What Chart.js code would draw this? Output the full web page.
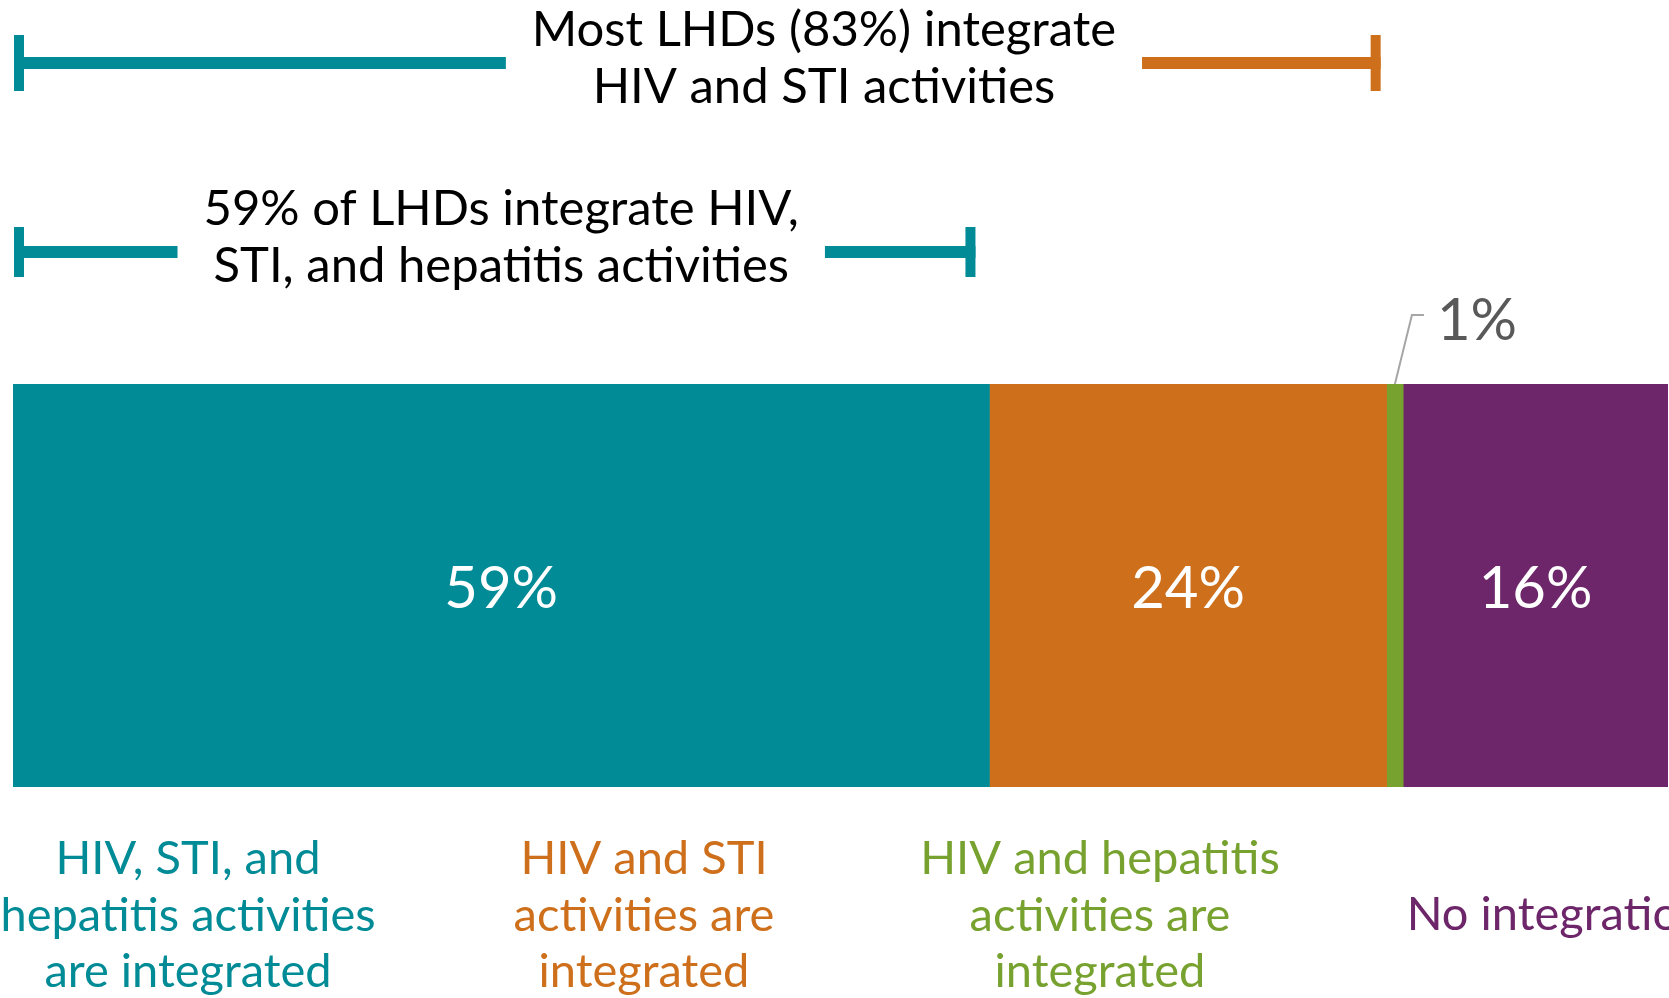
<!DOCTYPE html>
<html>
<head>
<meta charset="utf-8">
<script src="https://cdn.jsdelivr.net/npm/chart.js@4.4.1/dist/chart.umd.min.js"></script>
<style>
  html, body { margin: 0; padding: 0; background: #fff; overflow: hidden; }
  #wrap { position: absolute; left: 0; top: 0; width: 1669px; height: 998px; overflow: hidden; }
  canvas { position: absolute; left: 0; top: 0; }
</style>
</head>
<body>
<div id="wrap"><canvas id="myChart" width="1760" height="998"></canvas></div>
<script>
// shares of LHDs, in percent
const values = [59, 24, 1, 16]
const colors = ['#008B96', '#CE6F1B', '#78A22F', '#6C2669']
const categories = [
    ['HIV, STI, and', 'hepatitis activities', 'are integrated'],
    ['HIV and STI', 'activities are', 'integrated'],
    ['HIV and hepatitis', 'activities are', 'integrated'],
    ['No integration']
]
const topNote = [`Most LHDs (${values[0] + values[1]}%) integrate`, 'HIV and STI activities']
const lowNote = [`${values[0]}% of LHDs integrate HIV,`, 'STI, and hepatitis activities']

const FONT = 'Lato, "Open Sans", sans-serif'

function bracket(ctx, x0, x1, y, half, leftColor, rightColor, lines, cx, baselines) {
    ctx.font = `49px ${FONT}`
    const w = Math.max(...lines.map((l) => ctx.measureText(l).width))
    const gapL = cx - w / 2 - 26
    const gapR = cx + w / 2 + 26
    ctx.fillStyle = leftColor
    ctx.fillRect(x0, y - 6, gapL - x0, 12)
    ctx.fillRect(x0, y - half, 10, half * 2)
    ctx.fillStyle = rightColor
    ctx.fillRect(gapR, y - 6, x1 - gapR, 12)
    ctx.fillRect(x1 - 10, y - half, 10, half * 2)
    ctx.fillStyle = '#000'
    ctx.textAlign = 'center'
    ctx.textBaseline = 'alphabetic'
    lines.forEach((l, i) => ctx.fillText(l, cx, baselines[i]))
}

const overlay = {
    id: 'overlay',
    afterDatasetsDraw(chart) {
        const {ctx, chartArea} = chart
        const x = chart.scales.x
        const top = chartArea.top
        const mid = (chartArea.top + chartArea.bottom) / 2
        ctx.save()

        // value labels
        let cum = 0
        values.forEach((v, i) => {
            const a = x.getPixelForValue(cum)
            const b = x.getPixelForValue(cum + v)
            cum += v
            const cx = (a + b) / 2
            if (v < 5) {
                ctx.strokeStyle = '#A6A6A6'
                ctx.lineWidth = 2
                ctx.beginPath()
                ctx.moveTo(cx, top)
                ctx.lineTo(cx + 17, top - 69)
                ctx.lineTo(cx + 29, top - 69)
                ctx.stroke()
                ctx.fillStyle = '#595959'
                ctx.font = `58px ${FONT}`
                ctx.textAlign = 'left'
                ctx.textBaseline = 'alphabetic'
                ctx.fillText(v + '%', cx + 42, top - 44)
            } else {
                ctx.fillStyle = '#fff'
                ctx.font = `58px ${FONT}`
                ctx.textAlign = 'center'
                ctx.textBaseline = 'alphabetic'
                ctx.fillText(v + '%', cx, mid + 22)
            }
        })

        // brackets above the bar
        const start = x.getPixelForValue(0) + 1
        bracket(ctx, start, x.getPixelForValue(values[0] + values[1]) - 6, 63, 28,
            colors[0], colors[1], topNote, x.getPixelForValue(49), [46, 103])
        bracket(ctx, start, x.getPixelForValue(values[0]) - 14, 252, 25,
            colors[0], colors[0], lowNote, x.getPixelForValue(values[0] / 2), [225, 282])

        // category labels under the bar
        ctx.font = `47px ${FONT}`
        ctx.textAlign = 'center'
        ctx.textBaseline = 'alphabetic'
        categories.forEach((lines, i) => {
            ctx.fillStyle = colors[i]
            const cx = 188 + i * 456
            const first = lines.length === 1 ? 930 : 874
            lines.forEach((l, j) => ctx.fillText(l, cx, first + j * 56.5))
        })
        ctx.restore()
    }
}

const ctx = document.getElementById('myChart').getContext('2d')
const chart = new Chart(ctx, {
    type: 'bar',
    data: {
        labels: ['LHDs'],
        datasets: values.map((v, i) => ({
            label: categories[i].join(' '),
            data: [v],
            backgroundColor: colors[i],
            borderWidth: 0,
            barPercentage: 1,
            categoryPercentage: 1
        }))
    },
    options: {
        indexAxis: 'y',
        responsive: false,
        animation: false,
        layout: {
            padding: {left: 13, right: 92, top: 384, bottom: 211}
        },
        scales: {
            x: {stacked: true, min: 0, max: 100, display: false},
            y: {stacked: true, display: false}
        },
        plugins: {
            legend: {display: false},
            tooltip: {enabled: false}
        }
    },
    plugins: [overlay]
})
</script>
</body>
</html>
